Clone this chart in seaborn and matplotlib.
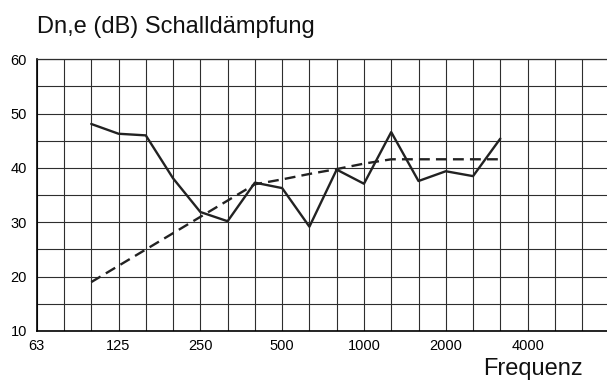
import pandas as pd
import matplotlib
matplotlib.use("Agg")
import matplotlib.pyplot as plt
import seaborn as sns

# third-octave bands shown on the x axis
bands = [63, 80, 100, 125, 160, 200, 250, 315, 400, 500, 630, 800,
         1000, 1250, 1600, 2000, 2500, 3150, 4000, 5000, 6300, 8000]
octave_labels = [63, 125, 250, 500, 1000, 2000, 4000]

# measured values (solid) and shifted reference curve (dashed)
freq = [100, 125, 160, 200, 250, 315, 400, 500, 630, 800,
        1000, 1250, 1600, 2000, 2500, 3150]
measured_db = [48.1, 46.3, 46.0, 38.1, 31.9, 30.2, 37.3, 36.3, 29.2, 39.7,
               37.1, 46.6, 37.6, 39.4, 38.5, 45.4]
reference_db = [19.0, 22.0, 25.0, 28.0, 31.0, 34.0, 37.0, 37.9, 38.9, 39.8,
                40.8, 41.6, 41.6, 41.6, 41.6, 41.6]

df = pd.DataFrame({
    "pos": [bands.index(f) for f in freq],
    "measured": measured_db,
    "reference": reference_db,
})

sns.set_theme(style="white")
plt.rcParams['font.family'] = ['Liberation Sans', 'DejaVu Sans']

fig = plt.figure(figsize=(6.07, 3.81), dpi=100)
ax = fig.add_axes([36.7 / 607, 50 / 381, 572.7 / 607, 271.7 / 381])

line_col = "#222222"
sns.lineplot(data=df, x="pos", y="measured", ax=ax, color=line_col,
             linewidth=1.7, zorder=3)
sns.lineplot(data=df, x="pos", y="reference", ax=ax, color=line_col,
             linewidth=1.7, zorder=3)
ax.lines[-1].set_dashes((4.6, 2.6))

ax.set_xlim(0, len(bands) - 1)
ax.set_ylim(10, 60)
ax.set_xticks(range(len(bands)))
ax.set_xticklabels([str(b) if b in octave_labels else "" for b in bands])
ax.set_yticks(range(10, 61, 5))
ax.set_yticklabels([str(v) if v % 10 == 0 else "" for v in range(10, 61, 5)])
ax.tick_params(axis="x", length=0, pad=6, labelsize=10.5, colors="black")
ax.tick_params(axis="y", length=0, pad=7, labelsize=10.5, colors="black")

ax.grid(True, color="#2e2e2e", linewidth=0.8)
ax.set_axisbelow(True)
for s in ax.spines.values():
    s.set_color("#2e2e2e")
    s.set_linewidth(0.9)
ax.spines["left"].set_color("black")
ax.spines["bottom"].set_color("black")
ax.spines["left"].set_linewidth(1.2)
ax.spines["bottom"].set_linewidth(1.2)

ax.set_xlabel("")
ax.set_ylabel("")
fig.text(37 / 607, 1 - 33.5 / 381, "Dn,e (dB) Schalldämpfung", fontsize=17,
         ha="left", va="baseline", color="#111111")
fig.text(583 / 607, 1 - 375 / 381, "Frequenz", fontsize=17,
         ha="right", va="baseline", color="#111111")

fig.savefig("out.png", dpi=100)
